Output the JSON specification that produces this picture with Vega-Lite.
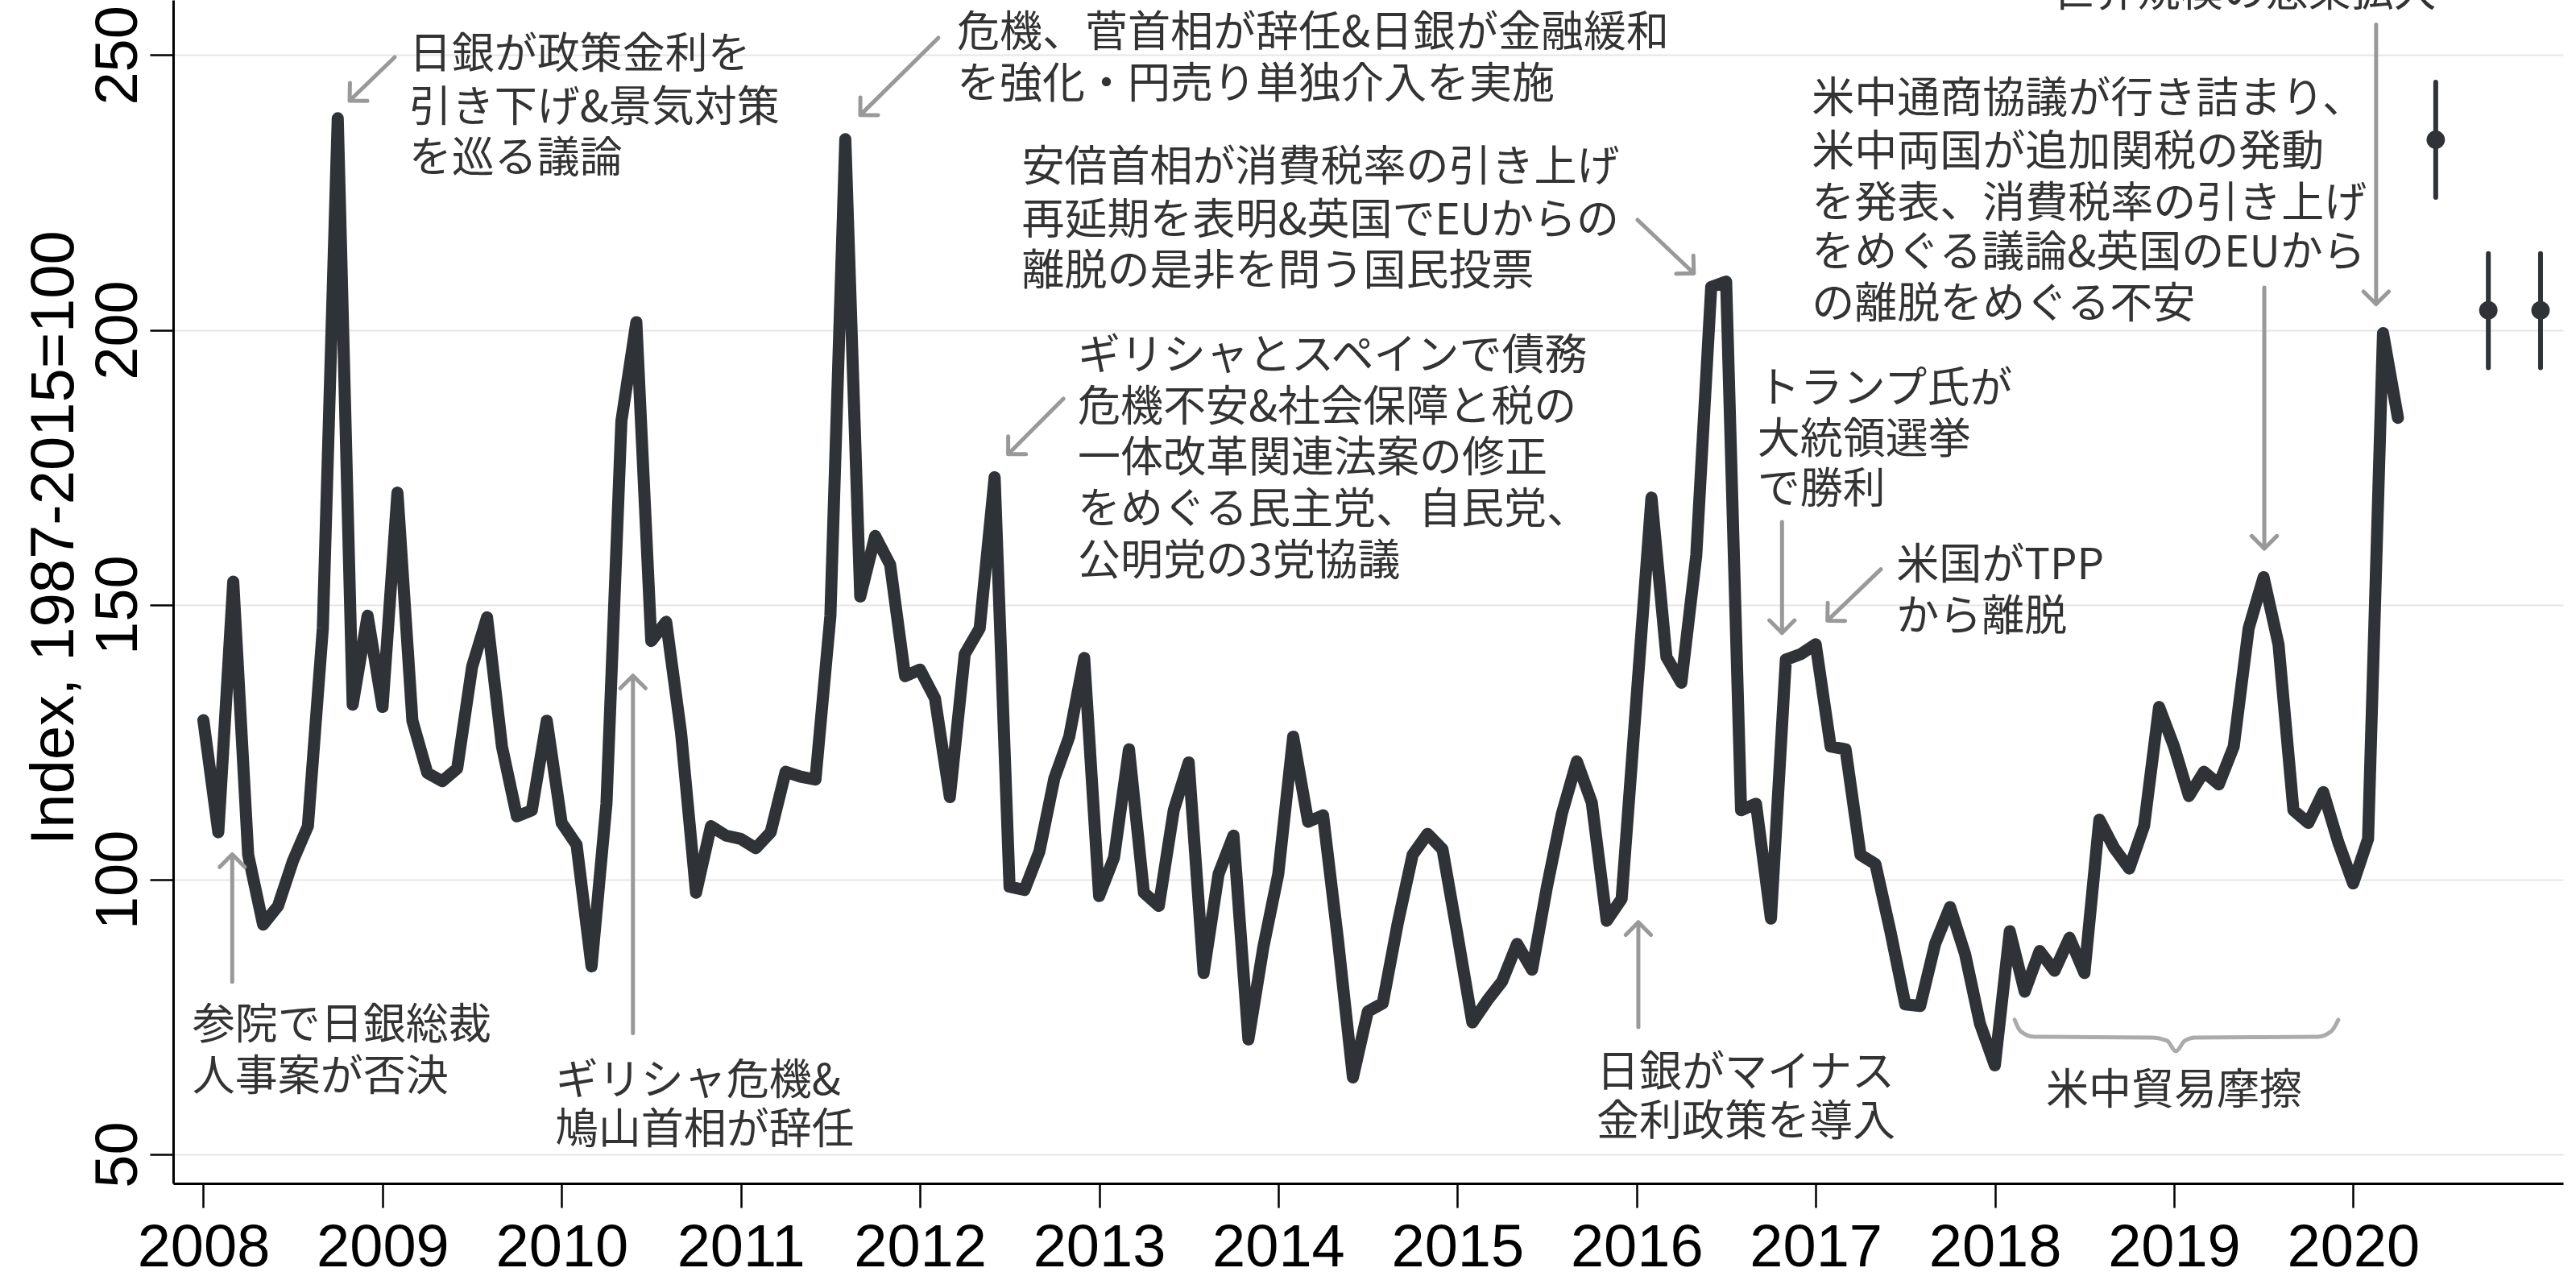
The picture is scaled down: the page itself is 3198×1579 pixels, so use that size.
{
  "$schema": "https://vega.github.io/schema/vega-lite/v6.json",
  "width": 2967,
  "height": 1469,
  "autosize": {"type": "none"},
  "padding": {"left": 215, "top": 0, "right": 16, "bottom": 110},
  "background": "white",
  "config": {
    "view": {"stroke": null},
    "font": "Liberation Sans",
    "axis": {"labelFont": "Liberation Sans", "titleFont": "Liberation Sans"}
  },
  "datasets": {
    "epu": [
      {"x":2008.0000,"y":129},{"x":2008.0833,"y":108.6},{"x":2008.1667,"y":154.2},{"x":2008.25,"y":104.5},{"x":2008.3333,"y":91.8},{"x":2008.4167,"y":95.2},{"x":2008.5,"y":103.4},{"x":2008.5833,"y":109.7},{"x":2008.6667,"y":145.7},{"x":2008.75,"y":238.5},{"x":2008.8333,"y":131.8},{"x":2008.9167,"y":148},
      {"x":2009.0000,"y":131.4},{"x":2009.0833,"y":170.4},{"x":2009.1667,"y":128.9},{"x":2009.25,"y":119.4},{"x":2009.3333,"y":117.9},{"x":2009.4167,"y":120.2},{"x":2009.5,"y":138.7},{"x":2009.5833,"y":147.7},{"x":2009.6667,"y":124.2},{"x":2009.75,"y":111.5},{"x":2009.8333,"y":112.6},{"x":2009.9167,"y":128.9},
      {"x":2010.0000,"y":110.3},{"x":2010.0833,"y":106.3},{"x":2010.1667,"y":84.2},{"x":2010.25,"y":113.8},{"x":2010.3333,"y":183.4},{"x":2010.4167,"y":201.4},{"x":2010.5,"y":143.4},{"x":2010.5833,"y":146.9},{"x":2010.6667,"y":126.6},{"x":2010.75,"y":97.6},{"x":2010.8333,"y":109.7},{"x":2010.9167,"y":108},
      {"x":2011.0000,"y":107.4},{"x":2011.0833,"y":105.7},{"x":2011.1667,"y":108.6},{"x":2011.25,"y":119.6},{"x":2011.3333,"y":118.7},{"x":2011.4167,"y":118.2},{"x":2011.5,"y":148},{"x":2011.5833,"y":234.7},{"x":2011.6667,"y":151.5},{"x":2011.75,"y":162.5},{"x":2011.8333,"y":157.3},{"x":2011.9167,"y":137},
      {"x":2012.0000,"y":138.2},{"x":2012.0833,"y":133},{"x":2012.1667,"y":115},{"x":2012.25,"y":141},{"x":2012.3333,"y":145.7},{"x":2012.4167,"y":173.2},{"x":2012.5,"y":98.7},{"x":2012.5833,"y":98.1},{"x":2012.6667,"y":105.1},{"x":2012.75,"y":118.4},{"x":2012.8333,"y":126},{"x":2012.9167,"y":140.3},
      {"x":2013.0000,"y":97},{"x":2013.0833,"y":104},{"x":2013.1667,"y":123.7},{"x":2013.25,"y":97.6},{"x":2013.3333,"y":95.2},{"x":2013.4167,"y":112.6},{"x":2013.5,"y":121.3},{"x":2013.5833,"y":83},{"x":2013.6667,"y":101},{"x":2013.75,"y":108},{"x":2013.8333,"y":70.9},{"x":2013.9167,"y":87.7},
      {"x":2014.0000,"y":101},{"x":2014.0833,"y":126},{"x":2014.1667,"y":110.5},{"x":2014.25,"y":111.7},{"x":2014.3333,"y":89},{"x":2014.4167,"y":64},{"x":2014.5,"y":76},{"x":2014.5833,"y":77.5},{"x":2014.6667,"y":92},{"x":2014.75,"y":104.5},{"x":2014.8333,"y":108.3},{"x":2014.9167,"y":105.5},
      {"x":2015.0000,"y":90},{"x":2015.0833,"y":74},{"x":2015.1667,"y":78},{"x":2015.25,"y":81.5},{"x":2015.3333,"y":88.3},{"x":2015.4167,"y":83.6},{"x":2015.5,"y":98.7},{"x":2015.5833,"y":112},{"x":2015.6667,"y":121.5},{"x":2015.75,"y":114},{"x":2015.8333,"y":92.5},{"x":2015.9167,"y":96.5},
      {"x":2016.0000,"y":133},{"x":2016.0833,"y":169.5},{"x":2016.1667,"y":140.5},{"x":2016.25,"y":135.8},{"x":2016.3333,"y":159},{"x":2016.4167,"y":207.8},{"x":2016.5,"y":208.8},{"x":2016.5833,"y":112.6},{"x":2016.6667,"y":113.8},{"x":2016.75,"y":92.9},{"x":2016.8333,"y":140},{"x":2016.9167,"y":141},
      {"x":2017.0000,"y":142.8},{"x":2017.0833,"y":124.2},{"x":2017.1667,"y":123.7},{"x":2017.25,"y":104.5},{"x":2017.3333,"y":102.8},{"x":2017.4167,"y":90.6},{"x":2017.5,"y":77.3},{"x":2017.5833,"y":77},{"x":2017.6667,"y":88.3},{"x":2017.75,"y":95},{"x":2017.8333,"y":86.5},{"x":2017.9167,"y":73.8},
      {"x":2018.0000,"y":66.2},{"x":2018.0833,"y":90.6},{"x":2018.1667,"y":79.6},{"x":2018.25,"y":87},{"x":2018.3333,"y":83.4},{"x":2018.4167,"y":89.4},{"x":2018.5,"y":83},{"x":2018.5833,"y":110.9},{"x":2018.6667,"y":105.7},{"x":2018.75,"y":102},{"x":2018.8333,"y":109.8},{"x":2018.9167,"y":131.4},
      {"x":2019.0000,"y":124.2},{"x":2019.0833,"y":115.2},{"x":2019.1667,"y":119.6},{"x":2019.25,"y":117.3},{"x":2019.3333,"y":124.2},{"x":2019.4167,"y":145.7},{"x":2019.5,"y":155},{"x":2019.5833,"y":142.8},{"x":2019.6667,"y":112.6},{"x":2019.75,"y":110.3},{"x":2019.8333,"y":115.9},{"x":2019.9167,"y":106.8},
      {"x":2020.0000,"y":99.3},{"x":2020.0833,"y":107.4},{"x":2020.1667,"y":199.4},{"x":2020.25,"y":184}
    ],
    "fc": [
      {"x":2020.461,"y":234.6,"lo":224.13,"hi":245.08},
      {"x":2020.7546,"y":203.57,"lo":193.1,"hi":213.89},
      {"x":2021.046,"y":203.57,"lo":193.1,"hi":213.89}
    ],
    "arrows": [
      {"id":"a1","o":1,"x":2009.068,"y":249.62},{"id":"a1","o":2,"x":2008.8162,"y":241.7},{"id":"a1","o":3,"x":2008.9151,"y":241.65},{"id":"a1","o":4,"x":2008.8162,"y":241.7},{"id":"a1","o":5,"x":2008.818,"y":244.93},
      {"id":"a2","o":1,"x":2012.1026,"y":253.14},{"id":"a2","o":2,"x":2011.6667,"y":239.08},{"id":"a2","o":3,"x":2011.7657,"y":239.07},{"id":"a2","o":4,"x":2011.6667,"y":239.08},{"id":"a2","o":5,"x":2011.6672,"y":242.3},
      {"id":"a3","o":1,"x":2016.0055,"y":220.01},{"id":"a3","o":2,"x":2016.3197,"y":210.3},{"id":"a3","o":3,"x":2016.317,"y":213.52},{"id":"a3","o":4,"x":2016.3197,"y":210.3},{"id":"a3","o":5,"x":2016.2208,"y":210.21},
      {"id":"a4","o":1,"x":2012.8004,"y":187.48},{"id":"a4","o":2,"x":2012.4924,"y":177.39},{"id":"a4","o":3,"x":2012.5913,"y":177.39},{"id":"a4","o":4,"x":2012.4924,"y":177.39},{"id":"a4","o":5,"x":2012.4924,"y":180.62},
      {"id":"a5","o":1,"x":2019.504,"y":207.7},{"id":"a5","o":2,"x":2019.504,"y":160.21},{"id":"a5","o":3,"x":2019.5741,"y":162.5},{"id":"a5","o":4,"x":2019.504,"y":160.21},{"id":"a5","o":5,"x":2019.4338,"y":162.5},
      {"id":"a6","o":1,"x":2020.1282,"y":255.54},{"id":"a6","o":2,"x":2020.1282,"y":204.68},{"id":"a6","o":3,"x":2020.1984,"y":206.97},{"id":"a6","o":4,"x":2020.1282,"y":204.68},{"id":"a6","o":5,"x":2020.058,"y":206.97},
      {"id":"a7","o":1,"x":2016.8119,"y":165.05},{"id":"a7","o":2,"x":2016.8119,"y":144.87},{"id":"a7","o":3,"x":2016.882,"y":147.16},{"id":"a7","o":4,"x":2016.8119,"y":144.87},{"id":"a7","o":5,"x":2016.7416,"y":147.16},
      {"id":"a8","o":1,"x":2017.3635,"y":156.46},{"id":"a8","o":2,"x":2017.0654,"y":147.11},{"id":"a8","o":3,"x":2017.1643,"y":147.05},{"id":"a8","o":4,"x":2017.0654,"y":147.11},{"id":"a8","o":5,"x":2017.0672,"y":150.34},
      {"id":"a9","o":1,"x":2008.161,"y":81.39},{"id":"a9","o":2,"x":2008.161,"y":104.58},{"id":"a9","o":3,"x":2008.2311,"y":102.29},{"id":"a9","o":4,"x":2008.161,"y":104.58},{"id":"a9","o":5,"x":2008.0908,"y":102.29},
      {"id":"a10","o":1,"x":2010.3978,"y":72.04},{"id":"a10","o":2,"x":2010.3978,"y":137.1},{"id":"a10","o":3,"x":2010.4679,"y":134.82},{"id":"a10","o":4,"x":2010.3978,"y":137.1},{"id":"a10","o":5,"x":2010.3276,"y":134.82},
      {"id":"a11","o":1,"x":2016.01,"y":73.17},{"id":"a11","o":2,"x":2016.01,"y":92.24},{"id":"a11","o":3,"x":2016.08,"y":89.95},{"id":"a11","o":4,"x":2016.01,"y":92.24},{"id":"a11","o":5,"x":2015.9398,"y":89.95}
    ],
    "brace": [
      {"x":2018.1105,"y":74.48},{"x":2018.1428,"y":72.42},{"x":2018.2192,"y":71.4},{"x":2018.8714,"y":71.25},{"x":2018.9611,"y":70.67},{"x":2019.0106,"y":68.76},{"x":2019.0601,"y":70.67},{"x":2019.115,"y":71.25},{"x":2019.8022,"y":71.4},{"x":2019.8786,"y":72.42},{"x":2019.9172,"y":74.48}
    ],
    "textL": [
      {"x":2009.1472,"y":249.9,"s":"日銀が政策金利を"},
      {"x":2009.1472,"y":240.23,"s":"引き下げ&景気対策"},
      {"x":2009.1472,"y":230.99,"s":"を巡る議論"},
      {"x":2012.206,"y":253.85,"s":"危機、菅首相が辞任&日銀が金融緩和"},
      {"x":2012.206,"y":244.48,"s":"を強化・円売り単独介入を実施"},
      {"x":2012.5684,"y":229.38,"s":"安倍首相が消費税率の引き上げ"},
      {"x":2012.5684,"y":219.71,"s":"再延期を表明&英国でEUからの"},
      {"x":2012.5684,"y":210.47,"s":"離脱の是非を問う国民投票"},
      {"x":2012.8813,"y":195.08,"s":"ギリシャとスペインで債務"},
      {"x":2012.8813,"y":185.76,"s":"危機不安&社会保障と税の"},
      {"x":2012.8813,"y":176.47,"s":"一体改革関連法案の修正"},
      {"x":2012.8813,"y":167.09,"s":"をめぐる民主党、自民党、"},
      {"x":2012.8813,"y":157.71,"s":"公明党の3党協議"},
      {"x":2016.978,"y":241.84,"s":"米中通商協議が行き詰まり、"},
      {"x":2016.978,"y":232.16,"s":"米中両国が追加関税の発動"},
      {"x":2016.978,"y":222.78,"s":"を発表、消費税率の引き上げ"},
      {"x":2016.978,"y":213.84,"s":"をめぐる議論&英国のEUから"},
      {"x":2016.978,"y":204.46,"s":"の離脱をめぐる不安"},
      {"x":2016.675,"y":189.13,"s":"トランプ氏が"},
      {"x":2016.675,"y":179.84,"s":"大統領選挙"},
      {"x":2016.675,"y":170.81,"s":"で勝利"},
      {"x":2017.4504,"y":156.98,"s":"米国がTPP"},
      {"x":2017.4504,"y":147.6,"s":"から離脱"},
      {"x":2007.9384,"y":73.32,"s":"参院で日銀総裁"},
      {"x":2007.9384,"y":63.97,"s":"人事案が否決"},
      {"x":2009.9665,"y":63.22,"s":"ギリシャ危機&"},
      {"x":2009.9665,"y":54.25,"s":"鳩山首相が辞任"},
      {"x":2015.7768,"y":64.72,"s":"日銀がマイナス"},
      {"x":2015.7768,"y":55.75,"s":"金利政策を導入"}
    ],
    "textC": [
      {"x":2019.0005,"y":61.36,"s":"米中貿易摩擦"},
      {"x":2019.393,"y":261.2,"s":"世界規模の感染拡大"}
    ]
  },
  "layer": [
    {
      "data": {"name": "epu"},
      "mark": {"type": "line", "color": "#2f3236", "strokeWidth": 15, "strokeJoin": "round", "strokeCap": "round"},
      "encoding": {
        "x": {"field": "x", "type": "quantitative",
              "scale": {"domain": [2007.8314, 2021.172], "nice": false, "zero": false},
              "axis": {"values": [2008,2009,2010,2011,2012,2013,2014,2015,2016,2017,2018,2019,2020], "format": "d",
                       "title": null, "grid": false, "labelFontSize": 74, "labelColor": "#000000",
                       "tickColor": "#000000", "tickSize": 30, "tickWidth": 2.5, "labelPadding": 14,
                       "domainColor": "#000000", "domainWidth": 3, "labelFlush": false, "labelOverlap": false}},
        "y": {"field": "y", "type": "quantitative",
              "scale": {"domain": [44.72, 260.02], "nice": false, "zero": false},
              "axis": {"values": [50,100,150,200,250], "title": "Index, 1987-2015=100",
                       "grid": true, "gridColor": "#e6e6e6", "gridWidth": 2,
                       "labelFontSize": 74, "labelColor": "#000000", "labelAngle": -90,
                       "labelAlign": "center", "labelBaseline": "bottom", "labelPadding": 1,
                       "tickColor": "#000000", "tickSize": 29, "tickWidth": 2.5,
                       "domainColor": "#000000", "domainWidth": 3, "labelFlush": false, "labelOverlap": false,
                       "titleFontSize": 76, "titleFontWeight": "normal", "titleColor": "#000000",
                       "titleAngle": -90, "titleX": -148, "titleY": 667, "titleAlign": "center", "titleBaseline": "middle"}}
      }
    },
    {
      "data": {"name": "fc"},
      "mark": {"type": "rule", "color": "#2f3236", "strokeWidth": 6, "strokeCap": "round"},
      "encoding": {
        "x": {"field": "x", "type": "quantitative", "scale": {"domain": [2007.8314, 2021.172], "nice": false, "zero": false}},
        "y": {"field": "lo", "type": "quantitative", "scale": {"domain": [44.72, 260.02], "nice": false, "zero": false}},
        "y2": {"field": "hi"}
      }
    },
    {
      "data": {"name": "fc"},
      "mark": {"type": "point", "filled": true, "shape": "circle", "size": 520, "color": "#2f3236", "opacity": 1},
      "encoding": {
        "x": {"field": "x", "type": "quantitative", "scale": {"domain": [2007.8314, 2021.172], "nice": false, "zero": false}},
        "y": {"field": "y", "type": "quantitative", "scale": {"domain": [44.72, 260.02], "nice": false, "zero": false}}
      }
    },
    {
      "data": {"name": "arrows"},
      "mark": {"type": "line", "color": "#999999", "strokeWidth": 5, "strokeJoin": "round", "strokeCap": "round"},
      "encoding": {
        "x": {"field": "x", "type": "quantitative", "scale": {"domain": [2007.8314, 2021.172], "nice": false, "zero": false}},
        "y": {"field": "y", "type": "quantitative", "scale": {"domain": [44.72, 260.02], "nice": false, "zero": false}},
        "detail": {"field": "id"},
        "order": {"field": "o", "type": "quantitative"}
      }
    },
    {
      "data": {"name": "brace"},
      "mark": {"type": "line", "color": "#ababab", "strokeWidth": 5, "interpolate": "monotone", "strokeCap": "round"},
      "encoding": {
        "x": {"field": "x", "type": "quantitative", "scale": {"domain": [2007.8314, 2021.172], "nice": false, "zero": false}},
        "y": {"field": "y", "type": "quantitative", "scale": {"domain": [44.72, 260.02], "nice": false, "zero": false}}
      }
    },
    {
      "data": {"name": "textL"},
      "mark": {"type": "text", "align": "left", "baseline": "middle", "font": "Noto Sans CJK JP", "fontSize": 53, "color": "#333333"},
      "encoding": {
        "x": {"field": "x", "type": "quantitative", "scale": {"domain": [2007.8314, 2021.172], "nice": false, "zero": false}},
        "y": {"field": "y", "type": "quantitative", "scale": {"domain": [44.72, 260.02], "nice": false, "zero": false}},
        "text": {"field": "s"}
      }
    },
    {
      "data": {"name": "textC"},
      "mark": {"type": "text", "align": "center", "baseline": "middle", "font": "Noto Sans CJK JP", "fontSize": 53, "color": "#333333"},
      "encoding": {
        "x": {"field": "x", "type": "quantitative", "scale": {"domain": [2007.8314, 2021.172], "nice": false, "zero": false}},
        "y": {"field": "y", "type": "quantitative", "scale": {"domain": [44.72, 260.02], "nice": false, "zero": false}},
        "text": {"field": "s"}
      }
    }
  ]
}
